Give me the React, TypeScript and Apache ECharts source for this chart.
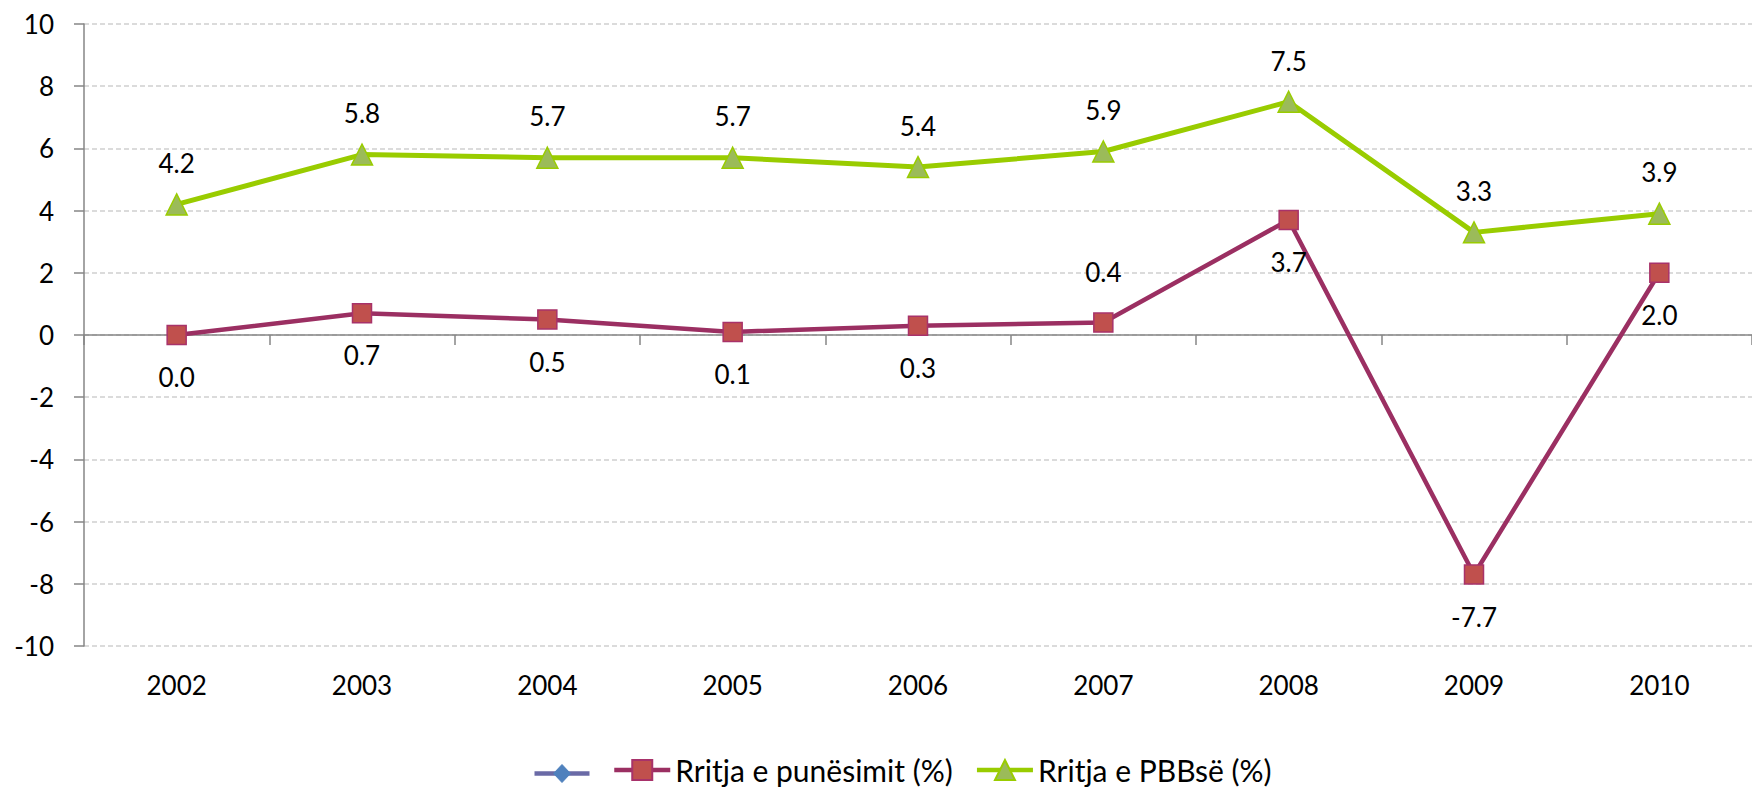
import React, { useEffect, useRef } from "react";
import * as echarts from "echarts";

const years = ["2002", "2003", "2004", "2005", "2006", "2007", "2008", "2009", "2010"];
const employmentGrowth = [0.0, 0.7, 0.5, 0.1, 0.3, 0.4, 3.7, -7.7, 2.0];
const gdpGrowth = [4.2, 5.8, 5.7, 5.7, 5.4, 5.9, 7.5, 3.3, 3.9];
const yTicks = { min: -10, max: 10, interval: 2 };
const employmentAbove = ["2007"];

const EMP = "Rritja e punësimit (%)";
const GDP = "Rritja e PBBsë (%)";
const FONT = "Lato";

export default function App() {
  const ref = useRef<HTMLDivElement>(null);
  useEffect(() => {
    if (!ref.current) return;
    const chart = echarts.init(ref.current, undefined, { renderer: "svg" });
    const labelBase = { show: true, color: "#000", fontFamily: FONT, fontSize: 26, formatter: (p: any) => Number(p.value).toFixed(1) };
    chart.setOption({
      animation: false,
      textStyle: { fontFamily: FONT },
      grid: { left: 84, right: -16, top: 24, bottom: 144, containLabel: false },
      legend: {
        top: 750,
        left: 607,
        itemGap: 22,
        itemWidth: 56,
        itemHeight: 25,
        lineStyle: { width: 4.5 },
        textStyle: { fontFamily: FONT, fontSize: 30, color: "#000" },
        data: [EMP, GDP],
      },
      graphic: [
        {
          type: "group",
          left: 532,
          top: 764,
          children: [
            { type: "line", shape: { x1: 0, y1: 9, x2: 55, y2: 9 }, style: { stroke: "#6A6AA6", lineWidth: 4.5 } },
            { type: "polygon", shape: { points: [[27.5, 0], [36, 9], [27.5, 18], [19, 9]] }, style: { fill: "#4F81BD", stroke: "#4F81BD", lineWidth: 1 } },
          ],
        },
      ],
      xAxis: [
        {
          type: "category",
          data: years,
          boundaryGap: true,
          axisLine: { onZero: true, lineStyle: { color: "#868686", width: 1.5 } },
          axisTick: { show: true, length: 10, lineStyle: { color: "#868686", width: 1.5 } },
          axisLabel: { show: false },
          splitLine: { show: false },
        },
        {
          type: "category",
          data: years,
          position: "bottom",
          boundaryGap: true,
          axisLine: { show: false, onZero: false },
          axisTick: { show: false },
          axisLabel: { show: true, margin: 26, color: "#000", fontFamily: FONT, fontSize: 26 },
          splitLine: { show: false },
        },
      ],
      yAxis: {
        type: "value",
        min: yTicks.min,
        max: yTicks.max,
        interval: yTicks.interval,
        axisLine: { show: true, lineStyle: { color: "#868686", width: 1.5 } },
        axisTick: { show: true, length: 10, lineStyle: { color: "#868686", width: 1.5 } },
        axisLabel: { margin: 30, color: "#000", fontFamily: FONT, fontSize: 26 },
        splitLine: { show: true, lineStyle: { color: "#D0D0D0", type: [5, 3], width: 1.5 } },
      },
      series: [
        {
          name: EMP,
          type: "line",
          data: employmentGrowth.map((v, i) => ({
            value: v,
            label: employmentAbove.includes(years[i])
              ? { position: "top", distance: 27 }
              : { position: "bottom", distance: 19 },
          })),
          symbol: "rect",
          symbolSize: 19,
          lineStyle: { color: "#9B2F62", width: 4.5 },
          itemStyle: { color: "#C0504D", borderColor: "#A8326A", borderWidth: 1.5 },
          label: { ...labelBase },
          z: 3,
        },
        {
          name: GDP,
          type: "line",
          data: gdpGrowth,
          symbol: "triangle",
          symbolSize: 21,
          lineStyle: { color: "#99CC00", width: 5 },
          itemStyle: { color: "#9BBB59", borderColor: "#99CC00", borderWidth: 1.5 },
          label: { ...labelBase, position: "top", distance: 17 },
          z: 4,
        },
      ],
    });
    return () => chart.dispose();
  }, []);
  return <div ref={ref} style={{ position: "absolute", left: 0, top: 0, width: 1752, height: 790, overflow: "hidden" }} />;
}
